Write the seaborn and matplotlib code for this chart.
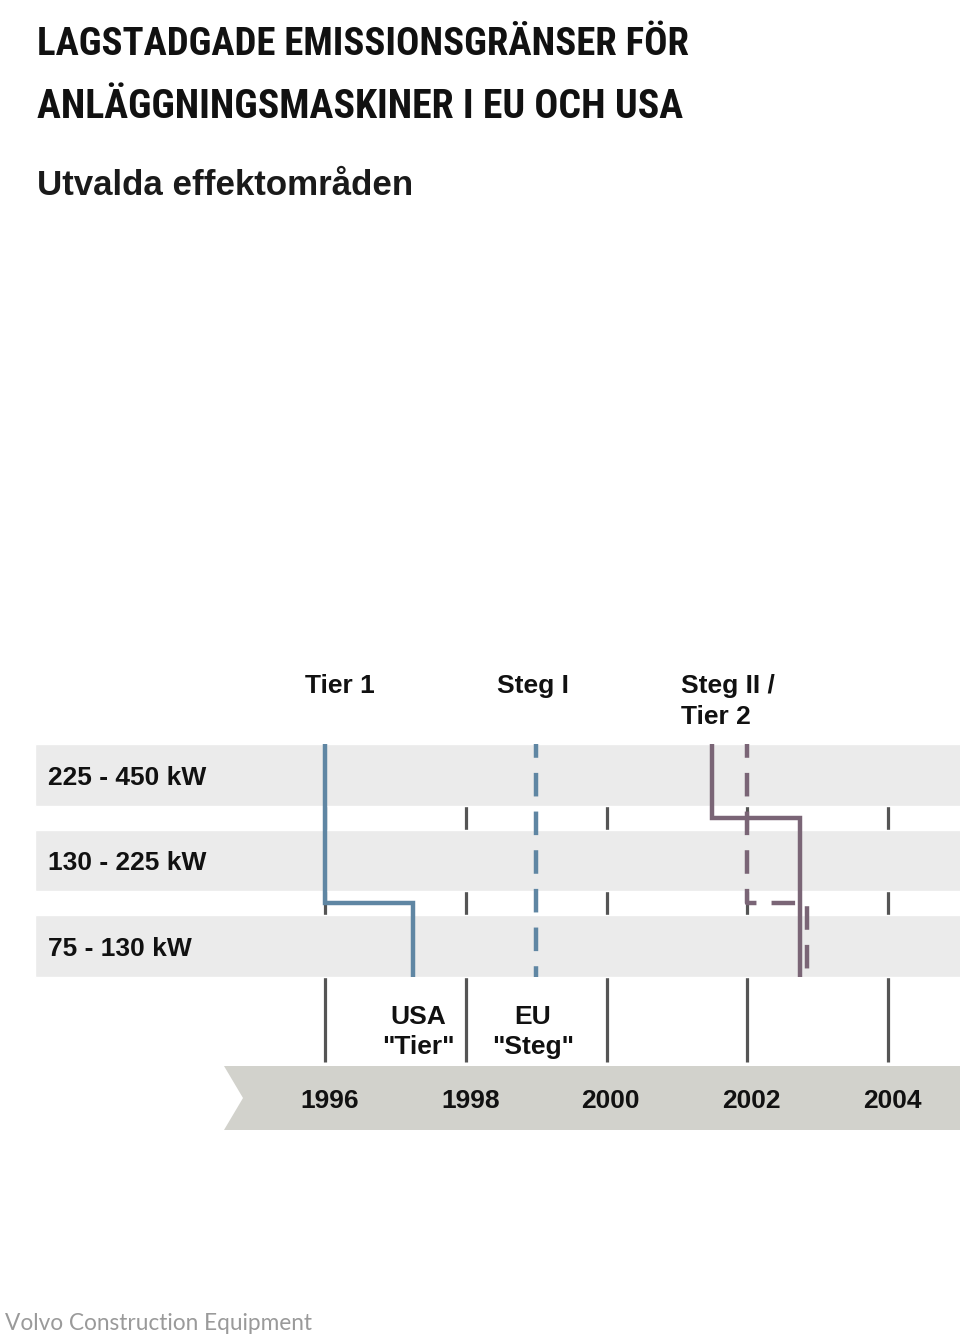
import matplotlib
matplotlib.use('Agg')
import matplotlib.pyplot as plt
from matplotlib import font_manager
import seaborn as sns

# power classes (rows, top to bottom)
power_classes = ['225 - 450 kW', '130 - 225 kW', '75 - 130 kW']

# introduction year per power class
tier1_years = [1996, 1996, 1997.25]
steg1_years = [1999, 1999, 1999]
steg2_tier2_years = [2001.5, 2002.75, 2002.75]
steg2_eu_years = [2002, 2002, 2002.85]

year_ticks = [1996, 1998, 2000, 2002, 2004]
year_labels = ['1996', '1998', '2000', '2002', '2004']

BLUE = '#5f86a3'
PURPLE = '#7a6576'
BAND = '#ebebeb'
ARROW = '#d2d2cc'
TICK = '#555555'

W, H = 960, 1341

sns.set_theme(style='white')
available = {f.name for f in font_manager.fontManager.ttflist}


def pick(*names):
    for n in names:
        if n in available:
            return n
    return 'DejaVu Sans'


MAIN = pick('Liberation Sans', 'Arial', 'DejaVu Sans')
NARROW = pick('Liberation Sans Narrow', 'DejaVu Sans Condensed', 'Roboto Condensed', MAIN)
THIN = pick('Lato', 'Open Sans', 'Roboto', MAIN)
plt.rcParams['font.family'] = [MAIN, 'DejaVu Sans']

fig = plt.figure(figsize=(W / 100, H / 100), dpi=100)
ax = fig.add_axes([0, 0, 1, 1])


# pixel -> data helpers (x in years, y in row units)
def xd(px):
    return 2000 + (px - 606.6) / 70.3


def yd(py):
    return (py - 775) / 85.5


rows = list(range(len(power_classes)))
band_h = 0.725
top = -band_h / 2
bottom = rows[-1] + band_h / 2

# year grid ticks (behind bands)
ax.vlines(year_ticks, top, yd(1062), color=TICK, lw=2.3, zorder=1)

# power class bands
ax.barh(rows, xd(W + 5) - xd(35), left=xd(35), height=band_h,
        color=BAND, zorder=2)
for r, lab in zip(rows, power_classes):
    ax.text(xd(48), r + 0.115, lab, fontsize=19, fontweight='bold',
            va='baseline', ha='left', color='#111111', zorder=5)


def step_path(years):
    xs, ys = [years[0]], [top]
    for i in range(1, len(years)):
        xs += [years[i - 1], years[i]]
        ys += [i - 0.5, i - 0.5]
    xs.append(years[-1])
    ys.append(bottom)
    return xs, ys


dash = (2.2, (5.3, 3.4))
series = [
    (tier1_years, BLUE, '-'),
    (steg1_years, BLUE, dash),
    (steg2_tier2_years, PURPLE, '-'),
    (steg2_eu_years, PURPLE, dash),
]
for years, col, ls in series:
    xs, ys = step_path(years)
    sns.lineplot(x=xs, y=ys, sort=False, estimator=None, color=col,
                 lw=3.2, linestyle=ls, solid_capstyle='butt',
                 solid_joinstyle='miter', ax=ax, zorder=4)
ax.set_xlim(xd(0), xd(W))
ax.set_ylim(yd(H), yd(0))
ax.axis('off')

# column headers
hdr = dict(fontsize=19, fontweight='bold', va='baseline', ha='left', color='#111111')
ax.text(xd(305), yd(693), 'Tier 1', **hdr)
ax.text(xd(497), yd(693), 'Steg I', **hdr)
ax.text(xd(681), yd(693), 'Steg II /', **hdr)
ax.text(xd(681), yd(724), 'Tier 2', **hdr)

# notes
note = dict(fontsize=19, fontweight='bold', va='baseline', ha='center', color='#111111')
ax.text(xd(418), yd(1024), 'USA', **note)
ax.text(xd(418), yd(1054), '"Tier"', **note)
ax.text(xd(533), yd(1024), 'EU', **note)
ax.text(xd(533), yd(1054), '"Steg"', **note)

# time arrow
a_top, a_bot = yd(1066), yd(1130)
ax.fill([xd(224), xd(W + 5), xd(W + 5), xd(224), xd(243)],
        [a_top, a_top, a_bot, a_bot, (a_top + a_bot) / 2],
        color=ARROW, lw=0, zorder=2)
for yr, lab in zip(year_ticks, year_labels):
    ax.text(yr + 0.06, yd(1108), lab, fontsize=19, fontweight='bold',
            ha='center', va='baseline', color='#111111', zorder=5)

# titles
renderer = fig.canvas.get_renderer()


def fit(t, target):
    w = t.get_window_extent(renderer).width
    t.set_fontsize(t.get_fontsize() * target / w)


t1 = fig.text(37 / W, 1 - 55 / H, 'LAGSTADGADE EMISSIONSGRÄNSER FÖR',
              family=[NARROW, 'DejaVu Sans'], fontweight='bold', fontsize=30,
              color='#111111', va='baseline')
t2 = fig.text(37 / W, 1 - 118 / H, 'ANLÄGGNINGSMASKINER I EU OCH USA',
              family=[NARROW, 'DejaVu Sans'], fontweight='bold', fontsize=30,
              color='#111111', va='baseline')
fit(t1, 651)
fit(t2, 645)
t3 = fig.text(37 / W, 1 - 195 / H, 'Utvalda effektområden', fontweight='bold',
              fontsize=25, color='#1a1a1a', va='baseline')
fit(t3, 376)
t4 = fig.text(5 / W, 1 - 1330 / H, 'Volvo Construction Equipment',
              family=[THIN, 'DejaVu Sans'], fontweight='normal', fontsize=16,
              color='#9a9a9a', va='baseline')
fit(t4, 308)

fig.savefig('out.png', dpi=100)
